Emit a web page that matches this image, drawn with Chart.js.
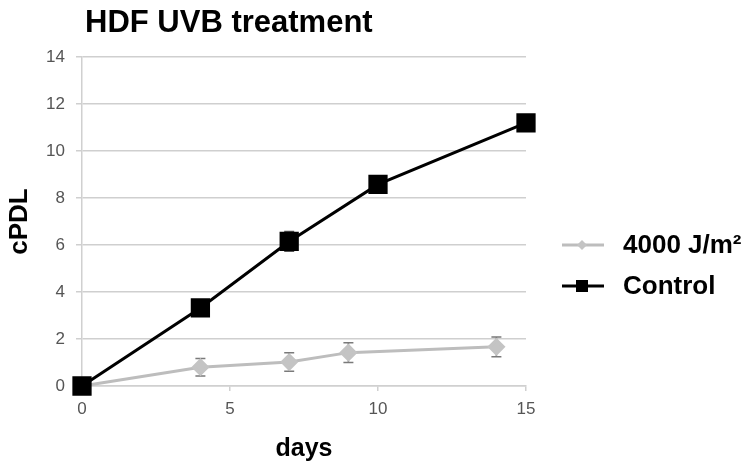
<!DOCTYPE html>
<html>
<head>
<meta charset="utf-8">
<script src="https://cdn.jsdelivr.net/npm/chart.js@4"></script>
<style>
  body { margin: 0; background: #fff; }
  #wrap { width: 747px; height: 462px; position: relative; }
</style>
</head>
<body>
<div id="wrap"><canvas id="cpdlChart"></canvas></div>
<script>
// data
const uvbDays = [0, 4, 7, 9, 14];
const uvbCpdl = [0, 0.8, 1.02, 1.42, 1.67];
const uvbErr = [0, 0.37, 0.39, 0.42, 0.42];

const ctrlDays = [0, 4, 7, 10, 15];
const ctrlCpdl = [0, 3.32, 6.15, 8.58, 11.2];
const ctrlErr = [0, 0.22, 0.42, 0.15, 0.15];

const yTicks = [0, 2, 4, 6, 8, 10, 12, 14];
const xTicks = [0, 5, 10, 15];

const FONT = "'Liberation Sans', Arial, sans-serif";

function pts(xs, ys) {
  return xs.map((x, i) => ({ x: x, y: ys[i] }));
}

// error bars drawn from the scales
const errorBars = {
  id: "errorBars",
  beforeDatasetsDraw(chart) {
    const ctx = chart.ctx;
    const xs = chart.scales.x, ys = chart.scales.y;
    chart.data.datasets.forEach(ds => {
      if (!ds.errors) return;
      ctx.save();
      ctx.strokeStyle = ds.errorColor;
      ctx.lineWidth = 1.5;
      ds.data.forEach((p, i) => {
        const e = ds.errors[i];
        if (!e) return;
        const px = xs.getPixelForValue(p.x);
        const top = ys.getPixelForValue(p.y + e);
        const bot = ys.getPixelForValue(p.y - e);
        ctx.beginPath();
        ctx.moveTo(px, top); ctx.lineTo(px, bot);
        ctx.moveTo(px - 5, top); ctx.lineTo(px + 5, top);
        ctx.moveTo(px - 5, bot); ctx.lineTo(px + 5, bot);
        ctx.stroke();
      });
      ctx.restore();
    });
  }
};

// title + legend like the original figure
const decorations = {
  id: "decorations",
  afterDraw(chart) {
    const ctx = chart.ctx;
    ctx.save();
    ctx.fillStyle = "#000";
    ctx.font = "bold 31px " + FONT;
    ctx.textBaseline = "alphabetic";
    ctx.fillText("HDF UVB treatment", 85, 32);

    const rows = [245, 286];
    chart.data.datasets.forEach((ds, i) => {
      const y = rows[i];
      ctx.strokeStyle = ds.borderColor;
      ctx.lineWidth = 3;
      ctx.beginPath();
      ctx.moveTo(562, y); ctx.lineTo(604, y);
      ctx.stroke();
      ctx.fillStyle = ds.pointBackgroundColor;
      if (ds.pointStyle === "rect") {
        ctx.fillRect(576, y - 6, 12, 12);
      } else {
        ctx.beginPath();
        ctx.moveTo(582, y - 5); ctx.lineTo(587, y); ctx.lineTo(582, y + 5); ctx.lineTo(577, y);
        ctx.closePath(); ctx.fill();
      }
      ctx.fillStyle = "#000";
      ctx.font = "bold 26px " + FONT;
      ctx.textBaseline = "middle";
      ctx.fillText(ds.label, 623, y + 1);
    });
    ctx.restore();
  }
};

window.addEventListener("DOMContentLoaded", () => {
  const ctx = document.getElementById("cpdlChart").getContext("2d");

  new Chart(ctx, {
    type: "line",
    data: {
      datasets: [{
        label: "4000 J/m²",
        data: pts(uvbDays, uvbCpdl),
        errors: uvbErr,
        errorColor: "#7a7a7a",
        borderColor: "#bdbdbd",
        pointBackgroundColor: "#c4c4c4",
        pointBorderColor: "#c4c4c4",
        pointStyle: "rectRot",
        pointRadius: 7,
        borderWidth: 3,
        order: 2
      }, {
        label: "Control",
        data: pts(ctrlDays, ctrlCpdl),
        errors: ctrlErr,
        errorColor: "#555",
        borderColor: "#000",
        pointBackgroundColor: "#000",
        pointBorderColor: "#000",
        pointStyle: "rect",
        pointRadius: 11.5,
        borderWidth: 3,
        order: 1
      }]
    },
    plugins: [errorBars, decorations],
    options: {
      responsive: true,
      maintainAspectRatio: false,
      animation: false,
      clip: false,
      layout: { padding: { top: 57, right: 221, left: 4, bottom: 0 } },
      plugins: {
        legend: { display: false },
        title: { display: false },
        tooltip: { enabled: false }
      },
      scales: {
        x: {
          type: "linear",
          min: 0,
          max: 15,
          afterBuildTicks: s => { s.ticks = xTicks.map(v => ({ value: v })); },
          afterFit: s => { s.height = 76; },
          ticks: { color: "#555", font: { family: FONT, size: 17 }, padding: 8 },
          grid: { drawOnChartArea: false, color: "#d0d0d0", lineWidth: 1.5, tickLength: 5 },
          border: { color: "#d0d0d0", width: 1.5 },
          title: {
            display: true,
            text: "days",
            color: "#000",
            font: { family: FONT, size: 25, weight: "bold" },
            padding: { top: 0, bottom: -2 }
          }
        },
        y: {
          min: 0,
          max: 14,
          afterBuildTicks: s => { s.ticks = yTicks.map(v => ({ value: v })); },
          afterFit: s => { s.width = 78; },
          ticks: { color: "#555", font: { family: FONT, size: 17 }, padding: 11 },
          grid: { color: "#cfcfcf", lineWidth: 1.5, tickLength: 6 },
          border: { color: "#d0d0d0", width: 1.5 },
          title: {
            display: true,
            text: "cPDL",
            color: "#000",
            font: { family: FONT, size: 26, weight: "bold" },
            padding: { top: 0, bottom: 0 }
          }
        }
      }
    }
  });
});
</script>
</body>
</html>
